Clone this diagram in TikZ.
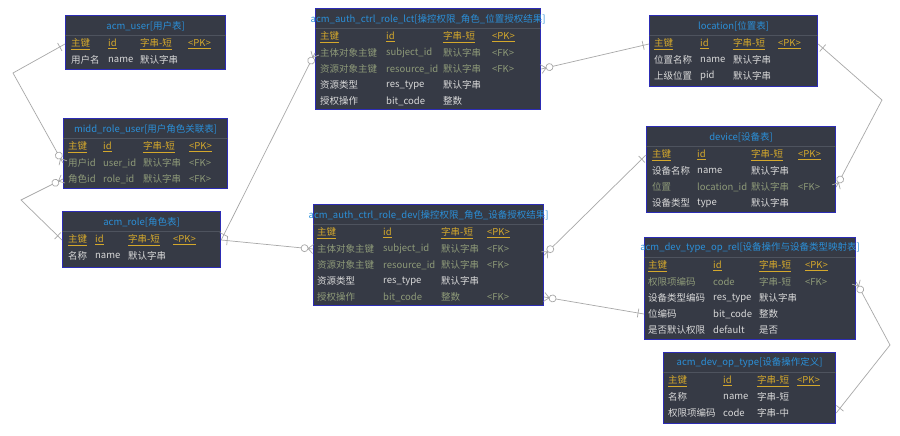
\documentclass[tikz,border=0pt]{standalone}
\usepackage{fontspec}
\setmainfont{Noto Sans CJK SC}

\definecolor{tblbg}{HTML}{363A45}
\definecolor{tblline}{HTML}{2C2CB4}
\definecolor{sepgray}{HTML}{4E535E}
\definecolor{ttlblue}{HTML}{2B8FD8}
\definecolor{keygold}{HTML}{D4A82C}
\definecolor{rowgray}{HTML}{D9D9D9}
\definecolor{fkgreen}{HTML}{8E9A78}
\definecolor{linkgray}{HTML}{A8A8A8}

% crow's foot with circle (zero or many)
\pgfdeclarearrow{
  name = Crow,
  setup code = {
    \pgfarrowssettipend{0pt}
    \pgfarrowssetlineend{-12pt}
    \pgfarrowssetbackend{-12pt}
    \pgfarrowshullpoint{0pt}{4.5pt}
    \pgfarrowshullpoint{0pt}{-4.5pt}
    \pgfarrowshullpoint{-12pt}{0pt}
  },
  drawing code = {
    \pgfpathmoveto{\pgfqpoint{0pt}{4.5pt}}
    \pgfpathlineto{\pgfqpoint{-5pt}{0pt}}
    \pgfpathlineto{\pgfqpoint{0pt}{-4.5pt}}
    \pgfpathmoveto{\pgfqpoint{0pt}{0pt}}
    \pgfpathlineto{\pgfqpoint{-5pt}{0pt}}
    \pgfpathcircle{\pgfqpoint{-8.5pt}{0pt}}{3.5pt}
    \pgfusepathqstroke
  },
}
% single tick (one)
\pgfdeclarearrow{
  name = One,
  setup code = {
    \pgfarrowssettipend{0pt}
    \pgfarrowssetlineend{0pt}
    \pgfarrowssetbackend{-6pt}
    \pgfarrowshullpoint{-6pt}{4.5pt}
    \pgfarrowshullpoint{-6pt}{-4.5pt}
  },
  drawing code = {
    \pgfpathmoveto{\pgfqpoint{-6pt}{4.5pt}}
    \pgfpathlineto{\pgfqpoint{-6pt}{-4.5pt}}
    \pgfusepathqstroke
  },
}

\tikzset{
  tbl/.style={draw=tblline, fill=tblbg, line width=1.2pt, inner sep=0pt, anchor=north west},
  ttl/.style={text=ttlblue, inner sep=0pt, font=\fontsize{9.5}{11}\selectfont},
  sepline/.style={draw=sepgray, line width=0.6pt},
  cell/.style={anchor=west, inner sep=0pt, font=\fontsize{9.5}{11}\selectfont},
  hdr/.style={cell, text=keygold},
  row/.style={cell, text=rowgray},
  fk/.style={cell, text=fkgreen},
  link/.style={draw=linkgray, line width=0.7pt},
}

% box, title and rule of one table
\newcommand{\ertable}[6]{%
  \node[tbl, minimum width=#4, minimum height=#5] (#1) at (#2,#3) {};
  \node[ttl] (#1-t) at ([yshift=-11pt]#1.north) {#6};
  \draw[sepline] ([yshift=-20pt]#1.north west) -- ([yshift=-20pt]#1.north east);
}
% key row: table, y, x of the four columns
\newcommand{\keyrow}[6]{%
  \node[hdr] (#1-1-1) at (#3,#2) {\underline{主键}};
  \node[hdr] (#1-1-2) at (#4,#2) {\underline{id}};
  \node[hdr] (#1-1-3) at (#5,#2) {\underline{字串-短}};
  \node[hdr] (#1-1-4) at (#6,#2) {\underline{<PK>}};
}
% other rows: table, row no, style, y, x/text list
\newcommand{\tblrow}[5]{%
  \foreach \x/\t [count=\j] in {#5}
    {\node[#3] (#1-#2-\j) at (\x,#4) {\t};}
}

\begin{document}
\begin{tikzpicture}[x=1pt, y=-1pt]
\useasboundingbox[fill=white] (0,0) rectangle (900,436);

% acm_user
\ertable{user}{65}{15}{160}{54}{acm\_user[用户表]}
\keyrow{user}{44}{71}{108}{140}{188}
\tblrow{user}{2}{row}{60}{71/用户名,108/name,140/默认字串}

% midd_role_user
\ertable{midd}{63}{118}{164}{70}{midd\_role\_user[用户角色关联表]}
\keyrow{midd}{147}{68}{103}{143}{189}
\tblrow{midd}{2}{fk}{163}{68/用户id,103/user\_id,143/默认字串,189/<FK>}
\tblrow{midd}{3}{fk}{179}{68/角色id,103/role\_id,143/默认字串,189/<FK>}

% acm_role
\ertable{role}{62}{211}{158}{56}{acm\_role[角色表]}
\keyrow{role}{240}{68}{95}{128}{173}
\tblrow{role}{2}{row}{256}{68/名称,95/name,128/默认字串}

% acm_auth_ctrl_role_lct
\ertable{lct}{315}{8}{225}{101}{acm\_auth\_ctrl\_role\_lct[操控权限\_角色\_位置授权结果]}
\keyrow{lct}{37}{320}{386}{443}{492}
\tblrow{lct}{2}{fk}{53}{320/主体对象主键,386/subject\_id,443/默认字串,492/<FK>}
\tblrow{lct}{3}{fk}{69}{320/资源对象主键,386/resource\_id,443/默认字串,492/<FK>}
\tblrow{lct}{4}{row}{85}{320/资源类型,386/res\_type,443/默认字串}
\tblrow{lct}{5}{row}{101}{320/授权操作,386/bit\_code,443/整数}

% acm_auth_ctrl_role_dev
\ertable{dev}{313}{204}{230}{101}{acm\_auth\_ctrl\_role\_dev[操控权限\_角色\_设备授权结果]}
\keyrow{dev}{233}{317}{383}{441}{487}
\tblrow{dev}{2}{fk}{249}{317/主体对象主键,383/subject\_id,441/默认字串,487/<FK>}
\tblrow{dev}{3}{fk}{265}{317/资源对象主键,383/resource\_id,441/默认字串,487/<FK>}
\tblrow{dev}{4}{row}{281}{317/资源类型,383/res\_type,441/默认字串}
\tblrow{dev}{5}{fk}{297}{317/授权操作,383/bit\_code,441/整数,487/<FK>}

% location
\ertable{location}{649}{15}{168}{71}{location[位置表]}
\keyrow{location}{44}{654}{700}{733}{778}
\tblrow{location}{2}{row}{60}{654/位置名称,700/name,733/默认字串}
\tblrow{location}{3}{row}{76}{654/上级位置,700/pid,733/默认字串}

% device
\ertable{device}{646}{126}{189}{86}{device[设备表]}
\keyrow{device}{155}{652}{697}{751}{798}
\tblrow{device}{2}{row}{171}{652/设备名称,697/name,751/默认字串}
\tblrow{device}{3}{fk}{187}{652/位置,697/location\_id,751/默认字串,798/<FK>}
\tblrow{device}{4}{row}{203}{652/设备类型,697/type,751/默认字串}

% acm_dev_type_op_rel
\ertable{oprel}{644}{237}{211}{102}{acm\_dev\_type\_op\_rel[设备操作与设备类型映射表]}
\keyrow{oprel}{266}{648}{713}{759}{805}
\tblrow{oprel}{2}{fk}{282}{648/权限项编码,713/code,759/字串-短,805/<FK>}
\tblrow{oprel}{3}{row}{298}{648/设备类型编码,713/res\_type,759/默认字串}
\tblrow{oprel}{4}{row}{314}{648/位编码,713/bit\_code,759/整数}
\tblrow{oprel}{5}{row}{330}{648/是否默认权限,713/default,759/是否}

% acm_dev_op_type
\ertable{optype}{663}{352}{172}{71}{acm\_dev\_op\_type[设备操作定义]}
\keyrow{optype}{381}{668}{723}{757}{797}
\tblrow{optype}{2}{row}{397}{668/名称,723/name,757/字串-短}
\tblrow{optype}{3}{row}{413}{668/权限项编码,723/code,757/字串-中}

% bends
\coordinate (b1) at (13,73);
\coordinate (b2) at (21,200);
\coordinate (b3) at (882,100);
\coordinate (b4) at (890,345);

% relations
\draw[link, One-Crow] (user.west |- user-1-1) -- (b1) -- (midd.west |- midd-2-1);
\draw[link, One-Crow] (role.west |- role-1-1) -- (b2) -- (midd.west |- midd-3-1);
\draw[link, One-Crow] (role.east |- role-1-1) -- (lct.west |- lct-2-1);
\draw[link, One-Crow] (role.east |- role-1-1) -- (dev.west |- dev-2-1);
\draw[link, One-Crow] (location.west |- location-1-1) -- (lct.east |- lct-3-1);
\draw[link, One-Crow] (device.west |- device-1-1) -- (dev.east);
\draw[link, One-Crow] (oprel.west |- oprel-4-1) -- (dev.east |- dev-5-1);
\draw[link, One-Crow] (location.east |- location-1-1) -- (b3) -- (device.east |- device-3-1);
\draw[link, One-Crow] (optype.east |- optype-3-1) -- (b4) -- (oprel.east |- oprel-2-1);
\end{tikzpicture}
\end{document}
